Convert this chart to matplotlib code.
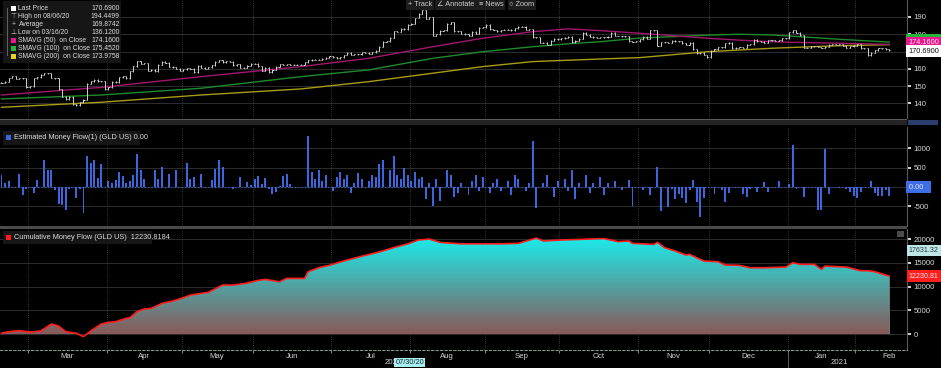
import numpy as np
import pandas as pd
import matplotlib
matplotlib.use("Agg")
import matplotlib.pyplot as plt
import matplotlib.transforms as mtransforms
from matplotlib.collections import LineCollection
from matplotlib.patches import PathPatch, Rectangle

plt.rcParams['font.family'] = ['Liberation Sans', 'DejaVu Sans']
plt.rcParams['axes.unicode_minus'] = False

W, H = 941, 368

# GLD US daily close, 19 Feb 2020 .. 12 Feb 2021 (one value per session)
close = [
    151.9, 152.5, 154.7, 155.9, 154.3, 154.5, 154.7, 149.3,
    149.9, 154.6, 155.2, 156.6, 157.6, 157.5, 154.7, 154.5, 148.2, 143.8, 142.4, 144.0,
    139.5, 139.0, 140.6, 142.1, 151.5, 152.8, 153.8, 152.8, 152.7, 148.1,
    149.3, 152.6, 152.3, 155.1, 155.8, 154.5, 158.7, 161.5, 164.3, 162.8, 163.3,
    158.9, 159.6, 158.5, 162.4, 164.1, 163.5, 161.3, 161.0, 160.0, 158.8,
    159.8, 160.5, 160.1, 158.1, 161.8, 160.7, 160.1, 160.8, 162.1, 164.1,
    164.9, 163.9, 164.4, 164.2, 162.1, 162.7, 160.6, 160.5, 161.7, 162.9,
    162.9, 161.4, 159.0, 160.6, 158.0, 159.6, 161.3, 162.7, 162.4, 162.6, 162.2,
    162.3, 162.5, 162.2, 163.9, 165.0, 165.3, 165.3, 165.4, 165.9, 166.4, 167.4,
    166.6, 166.2, 166.7, 168.0, 169.4, 168.2, 168.4, 168.4, 169.6, 169.3, 168.6,
    169.5, 170.5, 172.8, 175.8, 176.0, 178.0, 181.7, 181.5, 183.3, 182.8, 185.4,
    186.0, 189.4, 191.8, 193.9, 189.0, 189.8, 179.1, 180.0, 182.0, 182.2, 186.1,
    187.0, 181.7, 181.8, 180.2, 180.0, 179.0, 181.4, 180.2, 183.8, 184.0,
    185.5, 182.9, 182.5, 181.6, 182.5, 182.6, 182.7, 182.3, 183.5, 184.4, 184.3,
    182.6, 183.0, 178.2, 178.4, 175.0, 175.2, 174.0, 176.2, 177.5, 177.1,
    177.6, 177.9, 178.6, 175.3, 176.3, 177.5, 180.8, 179.7, 178.6, 178.3, 178.0,
    178.3, 178.2, 178.6, 180.8, 179.0, 179.0, 178.8, 178.9, 176.0, 175.5, 176.0,
    177.2, 178.6, 177.4, 182.5, 182.4, 173.5, 175.4, 175.4, 175.0, 176.2,
    176.0, 176.1, 174.8, 174.0, 175.2, 171.3, 169.1, 169.3, 168.0, 166.7,
    170.6, 171.4, 172.4, 172.4, 174.8, 175.0, 171.8, 172.2, 172.5, 172.1, 173.9,
    174.2, 176.8, 176.0, 175.7, 175.2, 176.6, 176.4, 176.2, 176.6, 177.7, 177.7,
    181.2, 182.3, 181.0, 179.4, 172.3, 172.1, 173.2, 173.0, 172.6, 172.1,
    172.9, 174.0, 174.2, 174.0, 174.1, 173.4, 172.3, 173.0, 173.4,
    174.4, 172.0, 171.8, 167.9, 169.3, 170.7, 172.0, 172.0, 171.3, 170.69,
]

# Estimated Money Flow(1), one bar per session
money_flow = [
    320, 100, 150, 0, 0, 345, -215, -60, 0, -155,
    190, 0, 710, 450, 450, -85, -450, -475, -590, -45,
    0, -275, -45, -665, 795, 620, 690, 240, 600, 0,
    150, 100, 170, 390, 275, 100, 155, 320, 845, 450,
    215, 0, 0, 430, 215, 520, 0, 345, 0, 450,
    0, 0, 630, 215, 260, 0, 345, 0, 0, 170,
    475, 710, 520, 0, 0, -50, 0, 260, 0, 130,
    60, 200, 295, 85, 235, -50, -190, -120, 20, 295,
    330, 70, 0, 0, 0, 0, 1310, 390, 200, 450,
    150, 300, 0, -100, 250, 400, 200, 300, -150, 100,
    350, 200, 0, 150, 300, 250, 600, 700, 0, 450,
    800, 300, 200, 500, 300, 150, 400, 200, 250, -300,
    100, -500, 200, -350, 0, 450, 300, -250, -150, 100,
    0, -200, 150, 300, -100, 250, 0, -150, 100, 200,
    -100, 0, 150, -200, 300, 200, 0, -100, 100, 1200,
    -550, 0, 100, 300, 0, -250, 150, 0, 200, -100,
    450, -300, 100, 0, 300, -150, 100, 0, 250, -200,
    100, 0, 150, 0, -85, 0, 190, -500, 0, 0,
    -85, 0, -215, 0, 520, -620, 0, -520, -45, -310,
    -170, -275, -415, -85, 190, -390, -775, -275, 0, 0,
    -190, 0, -70, -390, -155, 0, 0, 0, -190, -260,
    -45, 0, -130, 0, 130, -130, 0, 0, 150, 0,
    0, 70, 1095, -45, 0, -260, 0, 0, 0, -605,
    -585, 990, -190, 0, 0, -25, 0, -45, -130, -240,
    -275, -130, 0, 0, 150, -155, -240, -240, -85, -240,
]

# Cumulative Money Flow, read at these sessions
cmf_dates = [
    '2020-02-19', '2020-02-21', '2020-02-26', '2020-03-02', '2020-03-05', '2020-03-10',
    '2020-03-12', '2020-03-16', '2020-03-19', '2020-03-23', '2020-03-25', '2020-03-30',
    '2020-04-01', '2020-04-03', '2020-04-08', '2020-04-09', '2020-04-14', '2020-04-16',
    '2020-04-20', '2020-04-22', '2020-04-23', '2020-04-28', '2020-05-01', '2020-05-05',
    '2020-05-08', '2020-05-12', '2020-05-18', '2020-05-21', '2020-05-28', '2020-06-02',
    '2020-06-04', '2020-06-10', '2020-06-12', '2020-06-19', '2020-06-22', '2020-06-25',
    '2020-06-30', '2020-07-07', '2020-07-13', '2020-07-21', '2020-07-27', '2020-07-31',
    '2020-08-05', '2020-08-10', '2020-08-13', '2020-08-21', '2020-09-08', '2020-09-15',
    '2020-09-22', '2020-09-24', '2020-10-01', '2020-10-13', '2020-10-19', '2020-10-23',
    '2020-10-28', '2020-10-29', '2020-11-04', '2020-11-06', '2020-11-09', '2020-11-11',
    '2020-11-16', '2020-11-19', '2020-11-20', '2020-11-27', '2020-12-03', '2020-12-07',
    '2020-12-11', '2020-12-16', '2020-12-22', '2020-12-28', '2020-12-31', '2021-01-05',
    '2021-01-07', '2021-01-13', '2021-01-15', '2021-01-19', '2021-01-27', '2021-02-02',
    '2021-02-04', '2021-02-08', '2021-02-11', '2021-02-12',
]
cmf_values = [
    210, 550, 760, 480, 690, 2160,
    1740, 550, 210, -490, 690, 2160,
    2510, 2650, 3350, 3490, 4750, 5300,
    5440, 6140, 6490, 6980, 7680, 8240,
    8590, 8800, 10340, 10340, 10760, 11320,
    11530, 11040, 11740, 11740, 13140, 13980,
    14500, 15400, 16200, 17300, 18200, 19000,
    19800, 20000, 19300, 19000, 19000, 19100,
    20200, 19600, 19800, 20000, 20100, 19450,
    19590, 19100, 18960, 18880, 19310, 18190,
    17490, 16650, 16790, 15390, 15250, 14550,
    14480, 13980, 13980, 14050, 14120, 15040,
    14690, 14690, 13630, 14330, 14120, 13350,
    13350, 13140, 12440, 12230.8184,
]

# simple moving averages, read at these sessions
sma_dates = [
    '2020-02-19', '2020-03-30', '2020-05-08', '2020-06-18', '2020-07-16', '2020-08-11',
    '2020-08-31', '2020-09-21', '2020-10-05', '2020-10-16', '2020-11-02', '2020-11-30',
    '2020-12-11', '2020-12-24', '2021-01-04', '2021-01-25', '2021-02-12',
]
sma50 = [144.9, 149.3, 155.5, 161.3, 166.1, 172.8, 177.7, 181.5, 183.1, 182.1,
         180.6, 177.7, 176.6, 175.7, 175.4, 174.8, 174.16]
sma100 = [142.6, 144.9, 148.8, 155.5, 159.4, 166.1, 169.9, 172.8, 174.5, 175.7,
          177.8, 179.5, 180.0, 179.6, 179.0, 177.1, 175.452]
sma200 = [137.8, 140.7, 144.9, 148.4, 152.6, 157.5, 161.3, 164.2, 165.0, 165.7,
          166.5, 169.9, 170.9, 171.9, 172.3, 173.4, 173.9758]

legend_rows = [
    ('Last Price', '170.6900'),
    ('High on 08/06/20', '194.4499'),
    ('Average', '169.8742'),
    ('Low on 03/16/20', '136.1200'),
    ('SMAVG (50)  on Close', '174.1600'),
    ('SMAVG (100)  on Close', '175.4520'),
    ('SMAVG (200)  on Close', '173.9758'),
]

# trading sessions (NYSE holidays removed), x axis is the session number
holidays = ['2020-04-10', '2020-05-25', '2020-07-03', '2020-09-07', '2020-11-26',
            '2020-12-25', '2021-01-01', '2021-01-18', '2021-02-15']
cal = pd.date_range('2020-02-19', '2021-03-01', freq=pd.offsets.CustomBusinessDay(holidays=holidays))
dates = cal[:len(close)]
x = np.arange(len(close))

per = cal.to_period('M')
starts = [i for i in range(1, len(cal)) if per[i] != per[i - 1]]
month_starts = [s for s in starts if s < len(close)]
month_centers = [(a + b - 1) / 2 for a, b in zip(starts[:-1], starts[1:])]
month_names = [cal[s].strftime('%b') for s in starts[:-1]]

def pos(ds):
    return dates.get_indexer(pd.to_datetime(ds))

XL = (-0.42, 254.0)
BLUE = '#3b66dc'

fig = plt.figure(figsize=(W / 100, H / 100), dpi=100, facecolor='black')
ax1 = fig.add_axes([0, 1 - 118 / H, 907 / W, 118 / H])
ax2 = fig.add_axes([0, 1 - 226 / H, 907 / W, 99 / H])
ax3 = fig.add_axes([0, 1 - 350 / H, 907 / W, 121 / H])

for ax in (ax1, ax2, ax3):
    ax.set_facecolor('black')
    for s in ('top', 'left', 'bottom'):
        ax.spines[s].set_visible(False)
    ax.spines['right'].set_color('#5a5a5a')
    ax.yaxis.tick_right()
    ax.tick_params(axis='y', color='#e8e8e8', labelcolor='#d4d4d4', labelsize=5.6,
                   length=3, width=1.3, pad=1.5)
    ax.tick_params(axis='x', bottom=False, labelbottom=False)
    ax.grid(axis='y', color='#2e2e2e', lw=0.7)
    ax.set_axisbelow(True)
    for s in month_starts:
        ax.axvline(s - 0.5, color='#4c4c4c', lw=0.6, ls=(0, (1, 1.6)), zorder=0.5)
    ax.set_xlim(*XL)

# ---- price panel: small bars, left tick = previous close, right tick = close
opens = [close[0]] + close[:-1]
segs = []
for i, (o, c) in enumerate(zip(opens, close)):
    segs.append([(i, min(o, c) - 0.25), (i, max(o, c) + 0.25)])
    segs.append([(i - 0.3, o), (i, o)])
    segs.append([(i, c), (i + 0.3, c)])
ax1.add_collection(LineCollection(segs, colors='#d2d2d2', linewidths=0.7, zorder=3))
ax1.plot(pos(sma_dates), sma200, color='#a89c14', lw=1.0, zorder=2)
ax1.plot(pos(sma_dates), sma100, color='#1f8a2c', lw=1.0, zorder=2)
ax1.plot(pos(sma_dates), sma50, color='#a0186e', lw=1.0, zorder=2)
ax1.set_ylim(131.6, 199.8)
ax1.set_yticks([140, 150, 160, 170, 180, 190])
# 170 sits under the last-price tag
ax1.set_yticklabels(['140', '150', '160', '', '180', '190'])

def tag(ax, y, text, fc, tc, dy=0.0, z=10, size=5.3):
    ax.annotate(text, xy=(1, y), xycoords=('axes fraction', 'data'), xytext=(1.2, dy),
                textcoords='offset points', ha='left', va='center', fontsize=size, color=tc,
                bbox=dict(boxstyle='square,pad=0.3', fc=fc, ec='none'),
                annotation_clip=False, zorder=z)

tag(ax1, sma100[-1], '175.4520', '#25b53a', '#e8ffe8', dy=1.4, z=9)
tag(ax1, sma50[-1], '174.1600', '#e8168f', '#ffe0f0', dy=1.0, z=10)
tag(ax1, close[-1], '170.6900', '#ffffff', '#101010', dy=-0.5, z=11)

# ---- money flow panel
ax2.bar(x, money_flow, width=0.55, color=BLUE, zorder=3)
ax2.hlines(0, x[0], x[-1], color=BLUE, lw=0.8, ls=(0, (1, 2)), zorder=2)
ax2.set_ylim(-1010, 1554)
ax2.set_yticks([-500, 0, 500, 1000])
ax2.set_yticklabels(['-500', '', '500', '1000'])
tag(ax2, 0, '0.00   ', '#3d6ee6', '#dde6ff')

# ---- cumulative money flow panel with vertical colour fade
cx = pos(cmf_dates)
poly = ax3.fill_between(cx, 0, cmf_values, facecolor='none', edgecolor='none')
clip = PathPatch(poly.get_paths()[0], transform=ax3.transData, facecolor='none', edgecolor='none')
ax3.add_patch(clip)
t = np.linspace(0, 1, 256)[:, None, None]
c0 = np.array([0.54, 0.35, 0.35])[None, None, :]
c1 = np.array([0.10, 0.93, 0.93])[None, None, :]
grad = c0 + (c1 - c0) * t
img = ax3.imshow(grad, extent=[cx[0], cx[-1], 0, 20500], origin='lower', aspect='auto', zorder=2)
img.set_clip_path(clip)
ax3.plot(cx, cmf_values, color='#ff1c1c', lw=1.2, zorder=3)
ax3.vlines(cx[-1], 0, cmf_values[-1], color='#8a8a8a', lw=0.6, zorder=3)
ax3.set_xlim(*XL)
ax3.set_ylim(-3300, 22113)
ax3.set_yticks([0, 5000, 10000, 15000, 20000])
tag(ax3, 17631.324, '17631.32', '#bfe6e6', '#1e3c3c', size=5.1)
tag(ax3, cmf_values[-1], '12230.81', '#ff1e1e', '#ffe6e6', size=5.1)

ax3.spines['bottom'].set_visible(True)
ax3.spines['bottom'].set_color('#7f9a7f')
ax3.spines['bottom'].set_linestyle((0, (2, 2)))
ax3.set_xticks([s - 0.5 for s in month_starts])
ax3.set_xticklabels([''] * len(month_starts))
ax3.set_xticks(month_centers, minor=True)
ax3.set_xticklabels(month_names, minor=True)
ax3.tick_params(axis='x', which='major', bottom=True, length=2, color='#9a9a9a', width=0.6)
ax3.tick_params(axis='x', which='minor', bottom=True, labelbottom=True, length=0,
                labelsize=5.6, labelcolor='#d4d4d4', pad=2.5)
ax3.set_xlim(*XL)

bl = mtransforms.blended_transform_factory(ax3.transData, ax3.transAxes)
jan = pos(['2021-01-04'])[0]
ax3.plot([jan - 0.5, jan - 0.5], [-0.02, -0.16], color='#6a6a6a', lw=0.6, transform=bl, clip_on=False)
ax3.text((0 + jan - 1) / 2, -0.105, '2020', transform=bl, ha='center', va='center',
         fontsize=5.6, color='#d4d4d4')
ax3.text(pos(['2020-07-30'])[0] + 1.5, -0.105, '07/30/20', transform=bl, ha='center', va='center',
         fontsize=5.3, color='#103030', bbox=dict(boxstyle='square,pad=0.15', fc='#a8eeee', ec='none'))
ax3.text((jan + x[-1]) / 2, -0.105, '2021', transform=bl, ha='center', va='center',
         fontsize=5.6, color='#d4d4d4')

# ---- panel separators and terminal furniture
def px(x0, y0, w, h, fc, z=1):
    fig.patches.append(Rectangle((x0 / W, 1 - (y0 + h) / H), w / W, h / H,
                                 transform=fig.transFigure, fc=fc, ec='none', zorder=z))

px(0, 118.5, 907, 1.0, '#5a5a5a')
px(0, 120, 907, 5, '#242424')
px(908, 120, 30, 5, '#2a3f70')
px(0, 226, 907, 2.5, '#4a4a4a')
px(897, 231, 7, 6, '#4a4a4a', z=3)

def ftext(x0, y0, s, **kw):
    fig.text(x0 / W, 1 - y0 / H, s, **kw)

# toolbar
for cx_, label in [(420, '+ Track'), (456, '∠ Annotate'), (491, '≡ News'), (522, '○ Zoom')]:
    ftext(cx_, 4.5, label, ha='center', va='center', fontsize=5.3, color='#cfcfcf',
          bbox=dict(boxstyle='square,pad=0.25', fc='#1d1d1d', ec='none'), zorder=5)

# price legend
px(3, 1, 118, 62, '#161616', z=4)
px(7, 8, 0.6, 48, '#606060', z=5)
row_y = [8.5, 16.5, 24.5, 32.5, 40.5, 48.5, 56.5]
marks = [('sq', '#ffffff'), ('⊤', '#bdbdbd'), ('+', '#bdbdbd'), ('⊥', '#bdbdbd'),
         ('sq', '#e8168f'), ('sq', '#25b53a'), ('sq', '#e5d51c')]
for (lab, val), (mk, col), yy in zip(legend_rows, marks, row_y):
    if mk == 'sq':
        px(11, yy - 2.6, 5, 5, col, z=6)
    else:
        ftext(13.5, yy, mk, ha='center', va='center', fontsize=5, color=col, zorder=6)
    ftext(18.5, yy, lab, ha='left', va='center', fontsize=4.9, color='#dcdcdc', zorder=6)
    ftext(119.5, yy, val, ha='right', va='center', fontsize=4.9, color='#dcdcdc', zorder=6)

# money flow legend
px(3, 131, 137, 14, '#161616', z=4)
px(6, 135, 5, 5, BLUE, z=6)
ftext(14, 137.8, 'Estimated Money Flow(1) (GLD US) 0.00', ha='left', va='center',
      fontsize=5.3, color='#dcdcdc', zorder=6)

# cumulative legend
px(3, 231, 149, 13, '#161616', z=4)
px(6, 235, 5, 5, '#ff1c1c', z=6)
ftext(14, 237.5, 'Cumulative Money Flow (GLD US)  12230.8184', ha='left', va='center',
      fontsize=5.3, color='#dcdcdc', zorder=6)

fig.savefig('out.png', dpi=100, facecolor='black')
